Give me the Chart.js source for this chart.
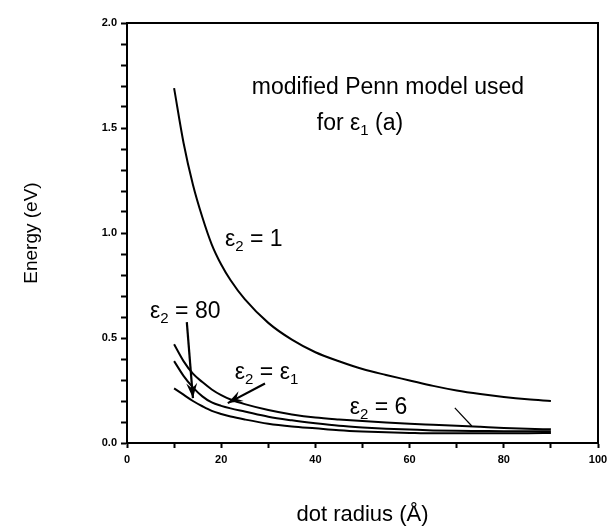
<!DOCTYPE html>
<html>
<head>
<meta charset="utf-8">
<script src="https://cdn.jsdelivr.net/npm/chart.js@4.4.1/dist/chart.umd.min.js"></script>
<style>
  html, body { margin: 0; padding: 0; background: #fff; }
  #wrap { width: 615px; height: 529px; }
</style>
</head>
<body>
<div id="wrap"><canvas id="myChart"></canvas></div>
<script>
// dot radius (Å)
var radius = [10, 12, 14, 16, 18, 20, 22, 25, 30, 35, 40, 45, 50, 55, 60, 65, 70, 75, 80, 85, 90];
// energy (eV)
var eps1 = [1.69, 1.43, 1.23, 1.075, 0.945, 0.85, 0.775, 0.685, 0.572, 0.492, 0.432, 0.389, 0.352, 0.324, 0.298, 0.272, 0.25, 0.233, 0.219, 0.208, 0.20];
var eps6 = [0.47, 0.39, 0.33, 0.29, 0.255, 0.228, 0.207, 0.185, 0.157, 0.136, 0.121, 0.112, 0.105, 0.098, 0.092, 0.087, 0.082, 0.077, 0.072, 0.068, 0.065];
var epsEps1 = [0.39, 0.32, 0.265, 0.222, 0.193, 0.177, 0.165, 0.15, 0.125, 0.108, 0.094, 0.082, 0.074, 0.068, 0.064, 0.06, 0.058, 0.057, 0.056, 0.056, 0.056];
var eps80 = [0.26, 0.23, 0.20, 0.175, 0.153, 0.138, 0.126, 0.112, 0.092, 0.079, 0.07, 0.061, 0.055, 0.051, 0.048, 0.046, 0.046, 0.046, 0.047, 0.047, 0.048];
var yTickLabels = ['0.0', '0.5', '1.0', '1.5', '2.0'];
var xTickLabels = ['0', '20', '40', '60', '80', '100'];

function pts(ys) {
    return radius.map(function (r, i) { return { x: r, y: ys[i] }; });
}

// text labels, arrows and leader line (data coordinates)
var notes = [
    { x: 26.5, y: 1.69, parts: [['modified Penn model used', 0]] },
    { x: 40.3, y: 1.52, parts: [['for ε', 0], ['1', 1], [' (a)', 0]] },
    { x: 20.8, y: 0.967, parts: [['ε', 0], ['2', 1], [' = 1', 0]] },
    { x: 4.9, y: 0.624, parts: [['ε', 0], ['2', 1], [' = 80', 0]] },
    { x: 22.9, y: 0.333, parts: [['ε', 0], ['2', 1], [' = ε', 0], ['1', 1]] },
    { x: 47.3, y: 0.167, parts: [['ε', 0], ['2', 1], [' = 6', 0]] }
];
var arrows = [
    { x1: 12.7, y1: 0.576, x2: 14.0, y2: 0.214, head: true },
    { x1: 29.3, y1: 0.283, x2: 21.4, y2: 0.190, head: true },
    { x1: 69.6, y1: 0.167, x2: 73.2, y2: 0.081, head: false }
];

var FONT = "'Liberation Sans', Arial, sans-serif";

var annotate = {
    id: 'annotate',
    afterDraw: function (chart) {
        var c = chart.ctx, xs = chart.scales.x, ys = chart.scales.y, a = chart.chartArea;
        c.save();
        // frame
        c.strokeStyle = '#000';
        c.lineWidth = 2;
        c.strokeRect(a.left, a.top, a.right - a.left, a.bottom - a.top);

        c.fillStyle = '#000';
        c.textBaseline = 'middle';
        notes.forEach(function (n) {
            var px = xs.getPixelForValue(n.x), py = ys.getPixelForValue(n.y);
            n.parts.forEach(function (p) {
                c.font = (p[1] ? '15px ' : '23px ') + FONT;
                c.fillText(p[0], px, py + (p[1] ? 7 : 0));
                px += c.measureText(p[0]).width;
            });
        });

        arrows.forEach(function (ar) {
            var x1 = xs.getPixelForValue(ar.x1), y1 = ys.getPixelForValue(ar.y1);
            var x2 = xs.getPixelForValue(ar.x2), y2 = ys.getPixelForValue(ar.y2);
            c.lineWidth = ar.head ? 2.2 : 1.2;
            c.beginPath();
            c.moveTo(x1, y1);
            c.lineTo(x2, y2);
            c.stroke();
            if (ar.head) {
                var ang = Math.atan2(y2 - y1, x2 - x1), L = 16, w = 0.35;
                c.beginPath();
                c.moveTo(x2, y2);
                c.lineTo(x2 - L * Math.cos(ang - w), y2 - L * Math.sin(ang - w));
                c.lineTo(x2 - L * 0.6 * Math.cos(ang), y2 - L * 0.6 * Math.sin(ang));
                c.lineTo(x2 - L * Math.cos(ang + w), y2 - L * Math.sin(ang + w));
                c.closePath();
                c.fill();
            }
        });
        c.restore();
    }
};

function line(label, ys) {
    return {
        label: label,
        data: pts(ys),
        borderColor: '#000',
        borderWidth: 2,
        pointRadius: 0,
        fill: false,
        cubicInterpolationMode: 'monotone'
    };
}

var ctx = document.getElementById('myChart').getContext('2d');
var myChart = new Chart(ctx, {
    type: 'line',
    data: {
        datasets: [
            line('ε2 = 1', eps1),
            line('ε2 = 6', eps6),
            line('ε2 = ε1', epsEps1),
            line('ε2 = 80', eps80)
        ]
    },
    options: {
        responsive: true,
        maintainAspectRatio: false,
        animation: false,
        layout: { padding: { top: 23, right: 17, left: 0, bottom: 0 } },
        plugins: { legend: { display: false }, tooltip: { enabled: false } },
        scales: {
            x: {
                type: 'linear',
                min: 0,
                max: 100,
                afterFit: function (s) { s.height = 86; },
                border: { color: '#000', width: 2 },
                grid: { drawOnChartArea: false, color: '#000', tickLength: 5, tickWidth: 2 },
                ticks: {
                    stepSize: 10,
                    autoSkip: false,
                    maxRotation: 0,
                    padding: 5,
                    color: '#000',
                    font: { family: FONT, size: 11, weight: 'bold' },
                    callback: function (v) {
                        var i = Math.round(v / 20);
                        return Math.abs(v - i * 20) < 1e-6 ? xTickLabels[i] : '';
                    }
                },
                title: {
                    display: true,
                    text: 'dot radius (Å)',
                    color: '#000',
                    font: { family: FONT, size: 22 },
                    padding: { top: 0, bottom: 1 }
                }
            },
            y: {
                min: 0,
                max: 2,
                afterFit: function (s) { s.width = 127; },
                border: { color: '#000', width: 2 },
                grid: { drawOnChartArea: false, color: '#000', tickLength: 6, tickWidth: 2 },
                ticks: {
                    stepSize: 0.1,
                    autoSkip: false,
                    padding: 4,
                    color: '#000',
                    font: { family: FONT, size: 11, weight: 'bold' },
                    callback: function (v) {
                        var i = Math.round(v * 2);
                        return Math.abs(v * 2 - i) < 1e-6 ? yTickLabels[i] : '';
                    }
                },
                title: {
                    display: true,
                    text: 'Energy (eV)',
                    color: '#000',
                    font: { family: FONT, size: 19 },
                    padding: { top: 20, bottom: 0 }
                }
            }
        }
    },
    plugins: [annotate]
});
</script>
</body>
</html>
